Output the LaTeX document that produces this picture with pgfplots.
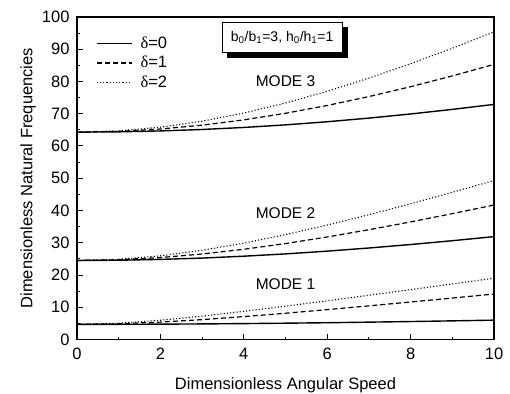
\documentclass[border=0pt]{standalone}
\usepackage{pgfplots}
\pgfplotsset{compat=1.18}
\usepackage{fontspec}
\setmainfont{Liberation Sans}
\newfontfamily\seriffont{Liberation Serif}
\tikzset{boxl/.style={minimum width=120bp, minimum height=30bp, inner sep=0bp,
    font=\fontsize{14bp}{17bp}\selectfont}}
\begin{document}
\begin{tikzpicture}
\begin{axis}[
  scale only axis, width=417bp, height=322.5bp,
  xmin=0, xmax=10, ymin=0, ymax=100,
  xtick={0,2,...,10}, ytick={0,10,...,100},
  minor x tick num=1, minor y tick num=1,
  tick pos=left, tick align=inside,
  major tick length=6bp, minor tick length=3bp,
  axis line style={line width=1.1bp},
  every tick/.style={line width=1bp, black},
  /pgf/number format/assume math mode=true,
  tick label style={font=\fontsize{16.5bp}{19bp}\selectfont},
  xticklabel style={yshift=-5bp},
  yticklabel style={xshift=-4bp},
  label style={font=\fontsize{16.5bp}{19bp}\selectfont},
  xlabel={Dimensionless Angular Speed},
  ylabel={Dimensionless Natural Frequencies},
  xlabel style={at={(axis description cs:0.5,-0.141)}, anchor=center},
  ylabel style={at={(axis description cs:-0.117,0.5)}, anchor=center},
  legend style={at={(rel axis cs:0,1)}, anchor=north west, xshift=16bp, yshift=-16bp,
    draw=none, fill=none, font=\fontsize{16.5bp}{19bp}\selectfont, row sep=2.2bp,
    /tikz/every odd column/.append style={column sep=6bp}},
  legend cell align=left,
  legend image code/.code={\draw[#1] (0bp,0bp) -- (35bp,0bp);},
  solidl/.style={black, line width=1.4bp},
  dashl/.style={black, line width=1.2bp, dash pattern=on 5bp off 3bp},
  dotl/.style={black, line width=1.1bp, dash pattern=on 1.1bp off 2.1bp},
]
\coordinate (SW) at (rel axis cs:0,0);
\coordinate (NE) at (rel axis cs:1,1);
% Mode 1
\addplot[solidl] coordinates {(0,4.70)(1,4.71)(2,4.76)(3,4.83)(4,4.93)(5,5.06)(6,5.20)(7,5.38)(8,5.57)(9,5.78)(10,6.00)};
\addplot[dashl] coordinates {(0,4.70)(1,4.88)(2,5.40)(3,6.16)(4,7.10)(5,8.14)(6,9.26)(7,10.43)(8,11.63)(9,12.85)(10,14.10)};
\addplot[dotl] coordinates {(0,4.70)(1,5.05)(2,5.97)(3,7.25)(4,8.74)(5,10.33)(6,12.00)(7,13.72)(8,15.46)(9,17.22)(10,19.00)};
\legend{{\seriffont δ}=0,{\seriffont δ}=1,{\seriffont δ}=2}
% Mode 2
\addplot[solidl] coordinates {(0,24.50)(1,24.58)(2,24.84)(3,25.25)(4,25.83)(5,26.54)(6,27.40)(7,28.37)(8,29.45)(9,30.63)(10,31.90)};
\addplot[dashl] coordinates {(0,24.50)(1,24.73)(2,25.41)(3,26.51)(4,27.97)(5,29.75)(6,31.79)(7,34.04)(8,36.46)(9,39.02)(10,41.70)};
\addplot[dotl] coordinates {(0,24.50)(1,24.87)(2,25.95)(3,27.66)(4,29.88)(5,32.52)(6,35.48)(7,38.69)(8,42.09)(9,45.64)(10,49.30)};
% Mode 3
\addplot[solidl] coordinates {(0,64.30)(1,64.39)(2,64.67)(3,65.12)(4,65.75)(5,66.55)(6,67.52)(7,68.65)(8,69.93)(9,71.35)(10,72.90)};
\addplot[dashl] coordinates {(0,64.30)(1,64.54)(2,65.27)(3,66.46)(4,68.10)(5,70.14)(6,72.56)(7,75.33)(8,78.39)(9,81.73)(10,85.30)};
\addplot[dotl] coordinates {(0,64.30)(1,64.69)(2,65.83)(3,67.69)(4,70.21)(5,73.32)(6,76.96)(7,81.04)(8,85.52)(9,90.32)(10,95.40)};
\node[font=\fontsize{15.5bp}{18bp}\selectfont] at (axis cs:5,80.2) {MODE 3};
\node[font=\fontsize{15.5bp}{18bp}\selectfont] at (axis cs:5,39.3) {MODE 2};
\node[font=\fontsize{15.5bp}{18bp}\selectfont] at (axis cs:5,17.2) {MODE 1};
\node[boxl, draw, line width=0.9bp, fill=white] (bx) at (axis cs:4.92,93.6)
  {b\textsubscript{0}/b\textsubscript{1}=3, h\textsubscript{0}/h\textsubscript{1}=1};
\fill[black] ([shift={(5bp,0bp)}]bx.south west) rectangle ([shift={(5bp,-5bp)}]bx.south east);
\fill[black] ([shift={(0bp,-5bp)}]bx.north east) rectangle ([shift={(5bp,-5bp)}]bx.south east);
\end{axis}
\pgfresetboundingbox
\path ([shift={(-77bp,-54.5bp)}]SW) rectangle ([shift={(16bp,17bp)}]NE);
\end{tikzpicture}
\end{document}
